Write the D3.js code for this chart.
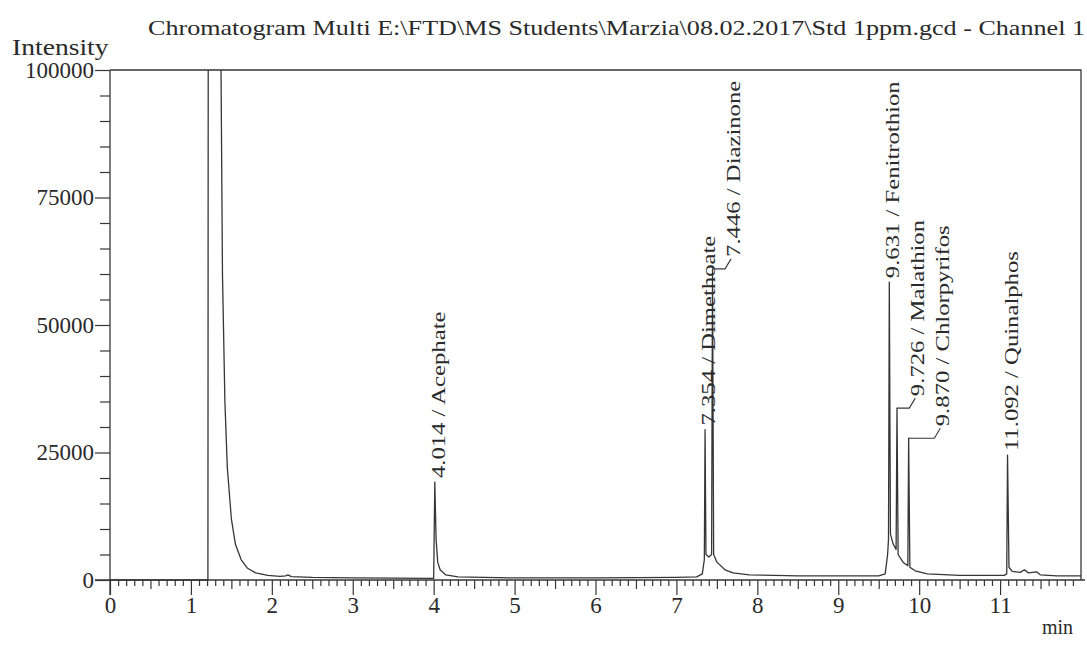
<!DOCTYPE html>
<html>
<head>
<meta charset="utf-8">
<script src="https://cdn.jsdelivr.net/npm/d3@7"></script>
<style>
  html, body { margin: 0; padding: 0; background: #fff; }
  svg { display: block; }
  text { font-family: "Liberation Serif", "Times New Roman", serif; fill: #2a2a2a; }
</style>
</head>
<body>
<svg id="chart" width="1087" height="647"></svg>
<script>
// Retention time (min) and detector intensity of the recorded trace
const traceTime = [
  0, 1.20, 1.21, 1.215, 1.36, 1.372, 1.39, 1.42, 1.45, 1.50, 1.55, 1.62, 1.70, 1.80, 1.95,
  2.10, 2.17, 2.20, 2.24, 2.50, 3.00, 3.50, 3.99,
  4.000, 4.014, 4.030, 4.050, 4.080, 4.150, 4.300, 5.00, 6.00, 7.00, 7.25, 7.32,
  7.345, 7.354, 7.365, 7.400, 7.435, 7.446, 7.460, 7.50, 7.60, 7.70, 7.90, 8.50, 9.50, 9.58,
  9.610, 9.621, 9.631, 9.645, 9.680, 9.715, 9.726, 9.740, 9.800, 9.860, 9.870, 9.885, 9.95,
  10.10, 10.50, 11.05, 11.082, 11.092, 11.110, 11.150, 11.250, 11.300, 11.350, 11.450, 11.50,
  11.70, 12.00
];
const traceIntensity = [
  0, 0, 0, 130000, 130000, 100000, 60000, 35000, 22000, 12000, 7000, 4000, 2300, 1400, 900,
  700, 800, 1000, 650, 500, 400, 350, 300,
  300, 19200, 8000, 3500, 2000, 1000, 600, 400, 400, 500, 600, 1200,
  4000, 29500, 5000, 4500, 5000, 61000, 5000, 3500, 2000, 1400, 1000, 800, 800, 1200,
  5000, 8000, 58400, 9000, 7000, 6000, 33700, 5000, 3500, 2800, 27800, 2500, 1800,
  1200, 900, 900, 1200, 24500, 2500, 1700, 1500, 2000, 1400, 1600, 1000,
  800, 800
];

// Identified peaks
const peakTime = [4.014, 7.354, 7.446, 9.631, 9.726, 9.870, 11.092];
const peakName = ["Acephate", "Dimethoate", "Diazinone", "Fenitrothion", "Malathion", "Chlorpyrifos", "Quinalphos"];
const peakHeight = [19200, 29500, 61000, 58400, 33700, 27800, 24500];

// Axis ticks
const yTickValues = [0, 25000, 50000, 75000, 100000];
const xTickValues = [0, 1, 2, 3, 4, 5, 6, 7, 8, 9, 10, 11];

const titleText = "Chromatogram Multi E:\\FTD\\MS Students\\Marzia\\08.02.2017\\Std 1ppm.gcd - Channel 1";

const svg = d3.select("#chart");
const ink = "#363636";

const x = d3.scaleLinear().domain([0, 12]).range([110, 1081]);
const y = d3.scaleLinear().domain([0, 100000]).range([580, 70]);

svg.append("rect").attr("width", 1087).attr("height", 647).attr("fill", "#fff");

// Title
svg.append("text")
  .attr("x", 148).attr("y", 35)
  .attr("font-size", 21)
  .attr("textLength", 937).attr("lengthAdjust", "spacingAndGlyphs")
  .text(titleText);

// Y label
svg.append("text").attr("transform", "translate(12,55) scale(1.2,1)").attr("font-size", 23).text("Intensity");
// X unit
svg.append("text").attr("x", 1073).attr("y", 634).attr("font-size", 20).attr("text-anchor", "end").text("min");

// Frame (top and right)
svg.append("path")
  .attr("d", `M${x(0)},${y(100000)}H${x(12)}V${y(0)}`)
  .attr("fill", "none").attr("stroke", ink).attr("stroke-width", 1.3);

// Y axis minor ticks
const yMinor = d3.range(0, 100001, 5000).filter(v => v % 25000 !== 0);
svg.append("g").attr("transform", `translate(${x(0)},0)`)
  .call(d3.axisLeft(y).tickValues(yMinor).tickSize(10).tickFormat(""))
  .call(g => g.select(".domain").remove());
// Y axis major
svg.append("g").attr("class", "yaxis").attr("transform", `translate(${x(0)},0)`)
  .call(d3.axisLeft(y).tickValues(yTickValues).tickSize(15).tickPadding(1).tickFormat(d3.format("d")))
  .call(g => g.select(".domain").attr("d", `M0,${y(0) + 15}V${y(100000)}`));

// X axis minor / half / major
const xMinor = d3.range(0, 121).map(i => i / 10).filter(v => Math.abs(v - Math.round(v * 2) / 2) > 1e-6);
const xHalf = d3.range(0, 12).map(i => i + 0.5);
svg.append("g").attr("transform", `translate(0,${y(0)})`)
  .call(d3.axisBottom(x).tickValues(xMinor).tickSize(6).tickFormat(""))
  .call(g => g.select(".domain").remove());
svg.append("g").attr("transform", `translate(0,${y(0)})`)
  .call(d3.axisBottom(x).tickValues(xHalf).tickSize(9).tickFormat(""))
  .call(g => g.select(".domain").remove());
svg.append("g").attr("transform", `translate(0,${y(0)})`)
  .call(d3.axisBottom(x).tickValues(xTickValues).tickSize(15).tickPadding(2).tickFormat(d3.format("d")))
  .call(g => g.select(".domain").attr("d", `M${x(0) - 15},0H${x(12) + 4}`));

svg.selectAll(".tick line").attr("stroke", ink).attr("stroke-width", 1.2);
svg.selectAll(".domain").attr("stroke", ink).attr("stroke-width", 1.3);
svg.selectAll(".tick text").attr("fill", "#2a2a2a").attr("font-size", 23)
  .attr("font-family", "Liberation Serif, Times New Roman, serif");

// Trace, clipped to the plot frame
svg.append("clipPath").attr("id", "plotClip")
  .append("rect").attr("x", x(0)).attr("y", y(100000)).attr("width", x(12) - x(0)).attr("height", y(0) - y(100000) + 1);

const pts = traceTime.map((t, i) => [t, traceIntensity[i]]);
svg.append("path")
  .datum(pts)
  .attr("clip-path", "url(#plotClip)")
  .attr("fill", "none").attr("stroke", ink).attr("stroke-width", 1.3).attr("stroke-linejoin", "round")
  .attr("d", d3.line().x(d => x(d[0])).y(d => y(d[1])));

// Peak labels: placed over the peak, pushed right when they would collide with the previous label
const labelGap = 25;
let prevX = -Infinity;
peakTime.forEach((t, i) => {
  const px = x(t), py = y(peakHeight[i]);
  let lx = px + 3;
  const shifted = lx - prevX < labelGap;
  if (shifted) lx = prevX + labelGap;
  prevX = lx;
  const base = shifted ? py - 12 : py - 4;
  if (shifted) {
    svg.append("path")
      .attr("d", `M${px},${py}H${lx - 8}L${lx - 2},${base + 2}`)
      .attr("fill", "none").attr("stroke", ink).attr("stroke-width", 1.1);
  }
  svg.append("text")
    .attr("transform", `translate(${lx + 7},${base}) rotate(-90) scale(1.3,1)`)
    .attr("font-size", 19)
    .text(`${d3.format(".3f")(t)} / ${peakName[i]}`);
});
</script>
</body>
</html>
